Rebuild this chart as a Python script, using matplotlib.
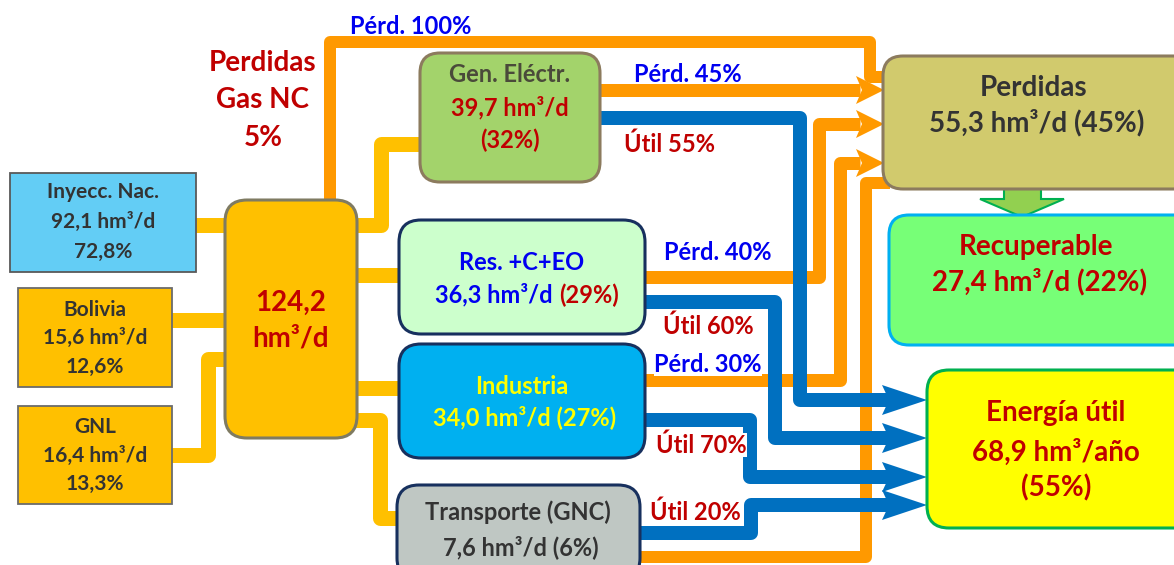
import matplotlib
matplotlib.use("Agg")
import matplotlib.pyplot as plt
from matplotlib.patches import FancyBboxPatch, Polygon, Rectangle

plt.rcParams['font.family'] = ['Lato', 'DejaVu Sans']
plt.rcParams['font.weight'] = 'bold'

# ---------------- data ----------------
sources = ["Inyecc. Nac.", "Bolivia", "GNL"]
source_flow = ["92,1", "15,6", "16,4"]
source_pct = ["72,8%", "12,6%", "13,3%"]
total_flow = "124,2"
loss_gas_nc = "5%"
sectors = ["Gen. Eléctr.", "Res. +C+EO", "Industria", "Transporte (GNC)"]
sector_flow = ["39,7", "36,3", "34,0", "7,6"]
sector_pct = ["32%", "29%", "27%", "6%"]
loss_pct = ["100%", "45%", "40%", "30%"]
useful_pct = ["55%", "60%", "70%", "20%"]
perdidas_flow, perdidas_pct = "55,3", "45%"
recup_flow, recup_pct = "27,4", "22%"
util_flow, util_pct = "68,9", "55%"
U = " hm³/d"

# ---------------- colours ----------------
YEL = "#FFC000"
ORA = "#FF9900"
BLU = "#0070C0"
RED = "#C00000"
TBLUE = "#0000F0"
DARK = "#333333"
NAVY = "#17305E"

W, H = 1174, 565
fig = plt.figure(figsize=(W / 100, H / 100), dpi=100)
ax = fig.add_axes([0, 0, 1, 1])
ax.set_xlim(0, W)
ax.set_ylim(H, 0)
ax.axis("off")

PT = 72 / 100  # pixel -> points


def pipe(pts, color, width, z):
    xs = [p[0] for p in pts]
    ys = [p[1] for p in pts]
    ax.plot(xs, ys, color=color, lw=width * PT, solid_joinstyle="round",
            solid_capstyle="butt", zorder=z)


def head(tipx, y, length, half, notch, color, z):
    pts = [(tipx, y), (tipx - length, y - half), (tipx - length + notch, y),
           (tipx - length, y + half)]
    ax.add_patch(Polygon(pts, closed=True, fc=color, ec="none", zorder=z))


def box(x, y, w, h, fc, ec, lw, r, z=5):
    if r > 0:
        p = FancyBboxPatch((x, y), w, h, boxstyle=f"round,pad=0,rounding_size={r}",
                           fc=fc, ec=ec, lw=lw, zorder=z)
    else:
        p = Rectangle((x, y), w, h, fc=fc, ec=ec, lw=lw, zorder=z)
    ax.add_patch(p)


def txt(x, y, s, color, size, ha="center", bg=False, z=10):
    kw = {}
    if bg:
        kw["bbox"] = dict(fc="white", ec="none", pad=0.5)
    ax.text(x, y, s, color=color, fontsize=size, ha=ha, va="center",
            fontweight="bold", zorder=z, **kw)


# ---------------- yellow supply pipes ----------------
pipe([(190, 225), (235, 225)], YEL, 15, 1)
pipe([(165, 320), (235, 320)], YEL, 15, 1)
pipe([(165, 455), (208, 455), (208, 359), (235, 359)], YEL, 15, 1)
pipe([(350, 225), (381, 225), (381, 144), (428, 144)], YEL, 15, 1)
pipe([(350, 275), (405, 275)], YEL, 15, 1)
pipe([(350, 388), (405, 388)], YEL, 15, 1)
pipe([(350, 420), (380, 420), (380, 518), (405, 518)], YEL, 15, 1)

# ---------------- orange loss pipes ----------------
pipe([(330, 205), (330, 42), (870, 42), (870, 77), (890, 77)], ORA, 12, 2)
pipe([(595, 90), (860, 90)], ORA, 13, 2)
head(884, 90, 28, 14, 6, ORA, 2)
pipe([(640, 277), (819, 277), (819, 124), (860, 124)], ORA, 13, 2)
head(884, 124, 28, 14, 6, ORA, 2)
pipe([(640, 380), (840, 380), (840, 163), (860, 163)], ORA, 13, 2)
head(884, 163, 28, 14, 6, ORA, 2)
pipe([(635, 557), (866, 557), (866, 183), (890, 183)], ORA, 12, 2)

# ---------------- blue useful pipes ----------------
pipe([(595, 118), (800, 118), (800, 400), (890, 400)], BLU, 14, 3)
head(927, 400, 45, 15, 7, BLU, 3)
pipe([(640, 302), (775, 302), (775, 438), (890, 438)], BLU, 14, 3)
head(927, 438, 45, 15, 7, BLU, 3)
pipe([(640, 420), (750, 420), (750, 477), (890, 477)], BLU, 14, 3)
head(927, 477, 45, 15, 7, BLU, 3)
pipe([(635, 533), (751, 533), (751, 505), (890, 505)], BLU, 14, 3)
head(927, 505, 45, 15, 7, BLU, 3)

# ---------------- boxes ----------------
box(10, 173, 186, 99, "#63CDF5", "#595959", 1.3, 0)
box(18, 288, 154, 99, YEL, "#6B6B6B", 1.3, 0)
box(18, 406, 154, 98, YEL, "#6B6B6B", 1.3, 0)
box(225, 200, 132, 238, YEL, "#7F7B62", 2.2, 22)
box(420, 53, 180, 129, "#A3D36B", "#8C7B5E", 2.2, 20)
box(399, 220, 246, 114, "#CCFFCC", NAVY, 2.2, 22)
box(399, 344, 246, 114, "#00B0F0", NAVY, 2.2, 22)
box(397, 485, 243, 95, "#BFC7C3", NAVY, 2.2, 22)
box(883, 56, 310, 133, "#D1CA6D", "#8C7B5E", 2.2, 20)
box(889, 215, 310, 130, "#77FF77", "#00B0F0", 2.2, 20)
box(927, 370, 270, 158, "#FFFF00", "#00B050", 2.2, 22)

# green arrow Perdidas -> Recuperable
ax.add_patch(Polygon([(1004, 186), (1041, 186), (1041, 199), (1064, 199),
                      (1022, 217), (980, 199), (1004, 199)], closed=True,
                     fc="#92D050", ec="#00B050", lw=1.5, zorder=4))

# ---------------- texts ----------------
FL = 17    # flow labels
txt(411, 27, "Pérd. " + loss_pct[0], TBLUE, FL)
txt(263, 63, "Perdidas", RED, 20)
txt(263, 100, "Gas NC", RED, 20)
txt(263, 138, loss_gas_nc, RED, 20)

src_y = [(192, 222, 252), (310, 338, 367), (427, 456, 484)]
src_x = [103, 95, 95]
for i in range(3):
    txt(src_x[i], src_y[i][0], sources[i], DARK, 15)
    txt(src_x[i], src_y[i][1], source_flow[i] + U, DARK, 15)
    txt(src_x[i], src_y[i][2], source_pct[i], DARK, 15)

txt(291, 303, total_flow, RED, 20)
txt(291, 338, "hm³/d", RED, 20)

SB = 17    # sector boxes
txt(510, 75, sectors[0], "#4A4A3A", SB)
txt(510, 108, sector_flow[0] + U, RED, SB)
txt(510, 140, "(" + sector_pct[0] + ")", RED, SB)

txt(522, 262, sectors[1], TBLUE, SB)
txt(553, 295, sector_flow[1] + U, TBLUE, SB, ha="right")
txt(559, 295, "(" + sector_pct[1] + ")", RED, SB, ha="left")

txt(522, 386, sectors[2], "#FFFF00", SB)
txt(525, 417, sector_flow[2] + U + " (" + sector_pct[2] + ")", "#FFFF00", SB)

txt(518, 512, sectors[3], DARK, SB)
txt(521, 547, sector_flow[3] + U + " (" + sector_pct[3] + ")", DARK, SB)

txt(688, 75, "Pérd. " + loss_pct[1], TBLUE, FL)
txt(669, 144, "Útil " + useful_pct[0], RED, FL)
txt(718, 253, "Pérd. " + loss_pct[2], TBLUE, FL)
txt(708, 326, "Útil " + useful_pct[1], RED, FL)
txt(708, 364, "Pérd. " + loss_pct[3], TBLUE, FL, bg=True)
txt(701, 445, "Útil " + useful_pct[2], RED, FL, bg=True)
txt(695, 512, "Útil " + useful_pct[3], RED, FL, bg=True)

RB = 20    # right boxes
txt(1034, 88, "Perdidas", DARK, RB)
txt(1037, 123, perdidas_flow + U + " (" + perdidas_pct + ")", DARK, RB)
txt(1036, 247, "Recuperable", RED, RB)
txt(1040, 282, recup_flow + U + " (" + recup_pct + ")", RED, RB)
txt(1056, 413, "Energía útil", RED, RB)
txt(1056, 452, util_flow + " hm³/año", RED, RB)
txt(1056, 488, "(" + util_pct + ")", RED, RB)

fig.savefig("out.png", dpi=100)
